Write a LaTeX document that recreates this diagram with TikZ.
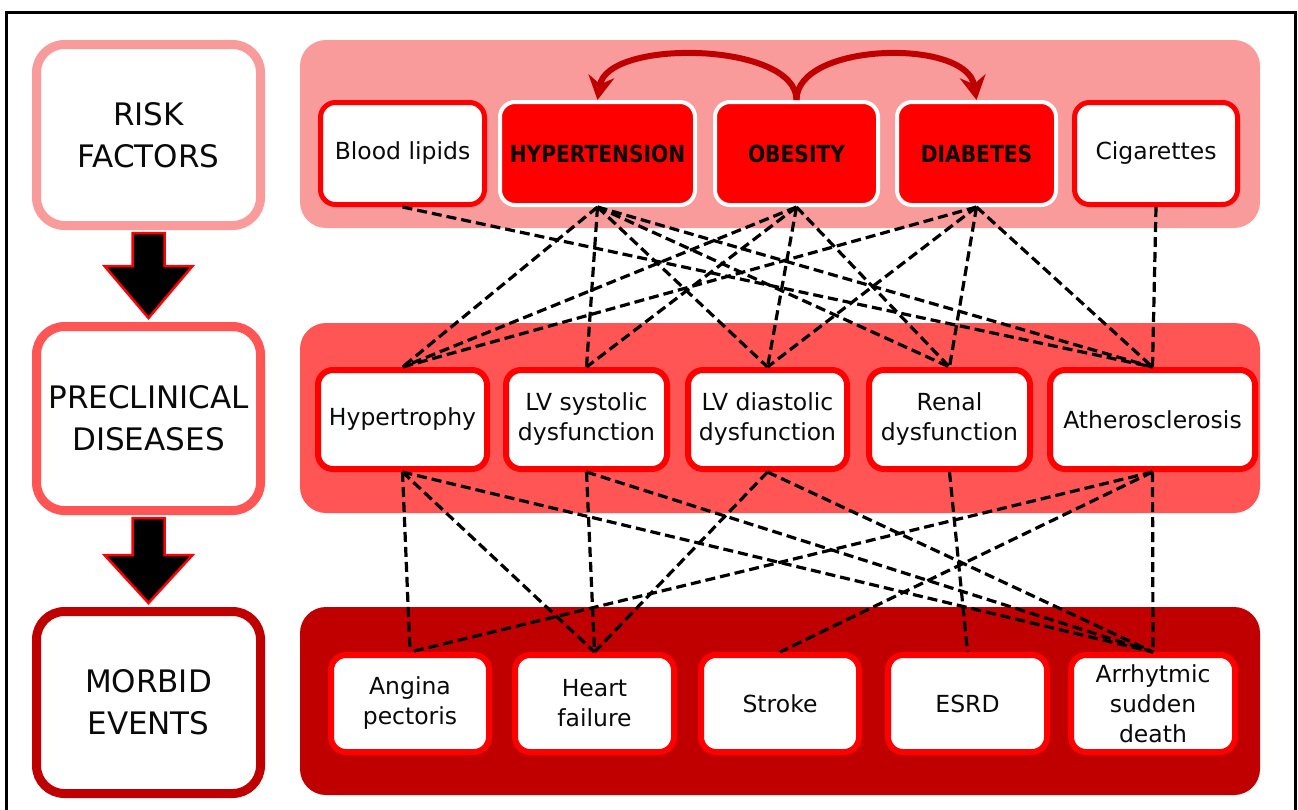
\documentclass[tikz,border=0pt]{standalone}
\usepackage{fontspec}
\setmainfont{DejaVu Sans}
\usetikzlibrary{arrows.meta,calc}
\definecolor{bandA}{RGB}{250,155,155}
\definecolor{bandB}{RGB}{255,85,85}
\definecolor{bandC}{RGB}{192,0,0}
\definecolor{boxred}{RGB}{255,0,0}
\definecolor{arcred}{RGB}{192,0,0}
\definecolor{txt}{RGB}{10,10,10}
\begin{document}
\begin{tikzpicture}[x=1pt,y=-1pt,
  band/.style={rounded corners=26pt, minimum width=960pt, inner sep=0pt, draw=none},
  catbox/.style={rounded corners=28pt, line width=9pt, fill=white, minimum width=224pt, align=center, font=\fontsize{31}{42}\selectfont, text=txt, inner sep=0pt},
  wbox/.style={rounded corners=15pt, line width=5pt, draw=boxred, fill=white, align=center, font=\fontsize{23.5}{30}\selectfont, text=txt, inner sep=0pt},
  mbox/.style={wbox, line width=6pt},
  rbox/.style={rounded corners=15pt, line width=4pt, draw=white, fill=boxred, align=center, font=\fontsize{23.5}{30}\selectfont\bfseries, text=txt, inner sep=0pt},
  link/.style={line width=3.2pt, dash pattern=on 10pt off 5pt, black},
  arcarrow/.style={line width=6pt, draw=arcred, -{Stealth[length=24pt,width=26pt,inset=8pt]}},
  bigarrow/.style={fill=black, draw=boxred, line width=2.5pt, line join=miter},
]
\useasboundingbox (0,0) rectangle (1298,809);
\fill[white] (0,0) rectangle (1298,809);
\draw[line width=3pt] (6,815) -- (6,12) -- (1295,12) -- (1295,815);

% bands
\node[band, fill=bandA, minimum height=188pt] (band1) at (780,134) {};
\node[band, fill=bandB, minimum height=190pt] (band2) at (780,418) {};
\node[band, fill=bandC, minimum height=188pt] (band3) at (780,701) {};

% category boxes
\node[catbox, draw=bandA, minimum height=181pt] (risk) at (148.5,135) {RISK\\FACTORS};
\node[catbox, draw=bandB, minimum height=184pt] (pre) at (148.5,418.5) {PRECLINICAL\\DISEASES};
\node[catbox, draw=bandC, minimum height=182pt] (mor) at (148.5,702.5) {MORBID\\EVENTS};

% big arrows
\draw[bigarrow] ($(risk.south)+(-16,3)$) -- ($(risk.south)+(-16,36)$) -- ($(risk.south)+(-44,36)$) -- ($(pre.north)+(0,-4)$) -- ($(risk.south)+(44,36)$) -- ($(risk.south)+(16,36)$) -- ($(risk.south)+(16,3)$) -- cycle;
\draw[bigarrow] ($(pre.south)+(-16,3)$) -- ($(pre.south)+(-16,40)$) -- ($(pre.south)+(-44,40)$) -- ($(mor.north)+(0,-4)$) -- ($(pre.south)+(44,40)$) -- ($(pre.south)+(16,40)$) -- ($(pre.south)+(16,3)$) -- cycle;

% risk factors
\node[wbox, minimum width=164pt, minimum height=102pt] (blood) at (402.5,153.5) {Blood lipids};
\node[rbox, minimum width=195pt, minimum height=103pt] (hyp) at (597.5,153.5) {\scalebox{0.86}[1]{HYPERTENSION}};
\node[rbox, minimum width=163pt, minimum height=103pt] (obes) at (796.5,153.5) {\scalebox{0.86}[1]{OBESITY}};
\node[rbox, minimum width=159pt, minimum height=103pt] (diab) at (976.5,153.5) {\scalebox{0.86}[1]{DIABETES}};
\node[wbox, minimum width=163pt, minimum height=102pt] (cig) at (1156,153.5) {Cigarettes};

% preclinical
\node[mbox, minimum width=169pt, minimum height=99pt] (hyt) at (402.5,419.5) {Hypertrophy};
\node[mbox, minimum width=161pt, minimum height=99pt] (lvs) at (586.5,419.5) {LV systolic\\dysfunction};
\node[mbox, minimum width=159pt, minimum height=99pt] (lvd) at (767.5,419.5) {LV diastolic\\dysfunction};
\node[mbox, minimum width=161pt, minimum height=99pt] (ren) at (949.5,419.5) {Renal\\dysfunction};
\node[mbox, minimum width=205pt, minimum height=99pt] (ath) at (1152.5,419.5) {Atherosclerosis};

% morbid events
\node[mbox, minimum width=158pt, minimum height=97pt] (ang) at (410,703.5) {Angina\\pectoris};
\node[mbox, minimum width=159pt, minimum height=97pt] (hf) at (594.5,703.5) {Heart\\failure};
\node[mbox, minimum width=158pt, minimum height=97pt] (str) at (780,703.5) {Stroke};
\node[mbox, minimum width=159pt, minimum height=97pt] (esrd) at (967.5,703.5) {ESRD};
\node[mbox, minimum width=164pt, minimum height=97pt] (arr) at (1153,703.5) {Arrhytmic\\sudden\\death};

% curved arrows
\draw[arcarrow] (obes.north) .. controls +(0,-58) and +(10,-62) .. (hyp.north);
\draw[arcarrow] (obes.north) .. controls +(0,-58) and +(-10,-62) .. (diab.north);

% links risk -> preclinical
\draw[link] (blood.south) -- (ath.north);
\foreach \t in {hyt,lvs,lvd,ren,ath} \draw[link] (hyp.south) -- (\t.north);
\foreach \t in {hyt,lvs,lvd,ren} \draw[link] (obes.south) -- (\t.north);
\foreach \t in {hyt,lvd,ren,ath} \draw[link] (diab.south) -- (\t.north);
\draw[link] (cig.south) -- (ath.north);

% links preclinical -> morbid
\foreach \t in {ang,hf,arr} \draw[link] (hyt.south) -- (\t.north);
\foreach \t in {hf,arr} \draw[link] (lvs.south) -- (\t.north);
\foreach \t in {hf,arr} \draw[link] (lvd.south) -- (\t.north);
\draw[link] (ren.south) -- (esrd.north);
\foreach \t in {ang,str,arr} \draw[link] (ath.south) -- (\t.north);
\end{tikzpicture}
\end{document}
